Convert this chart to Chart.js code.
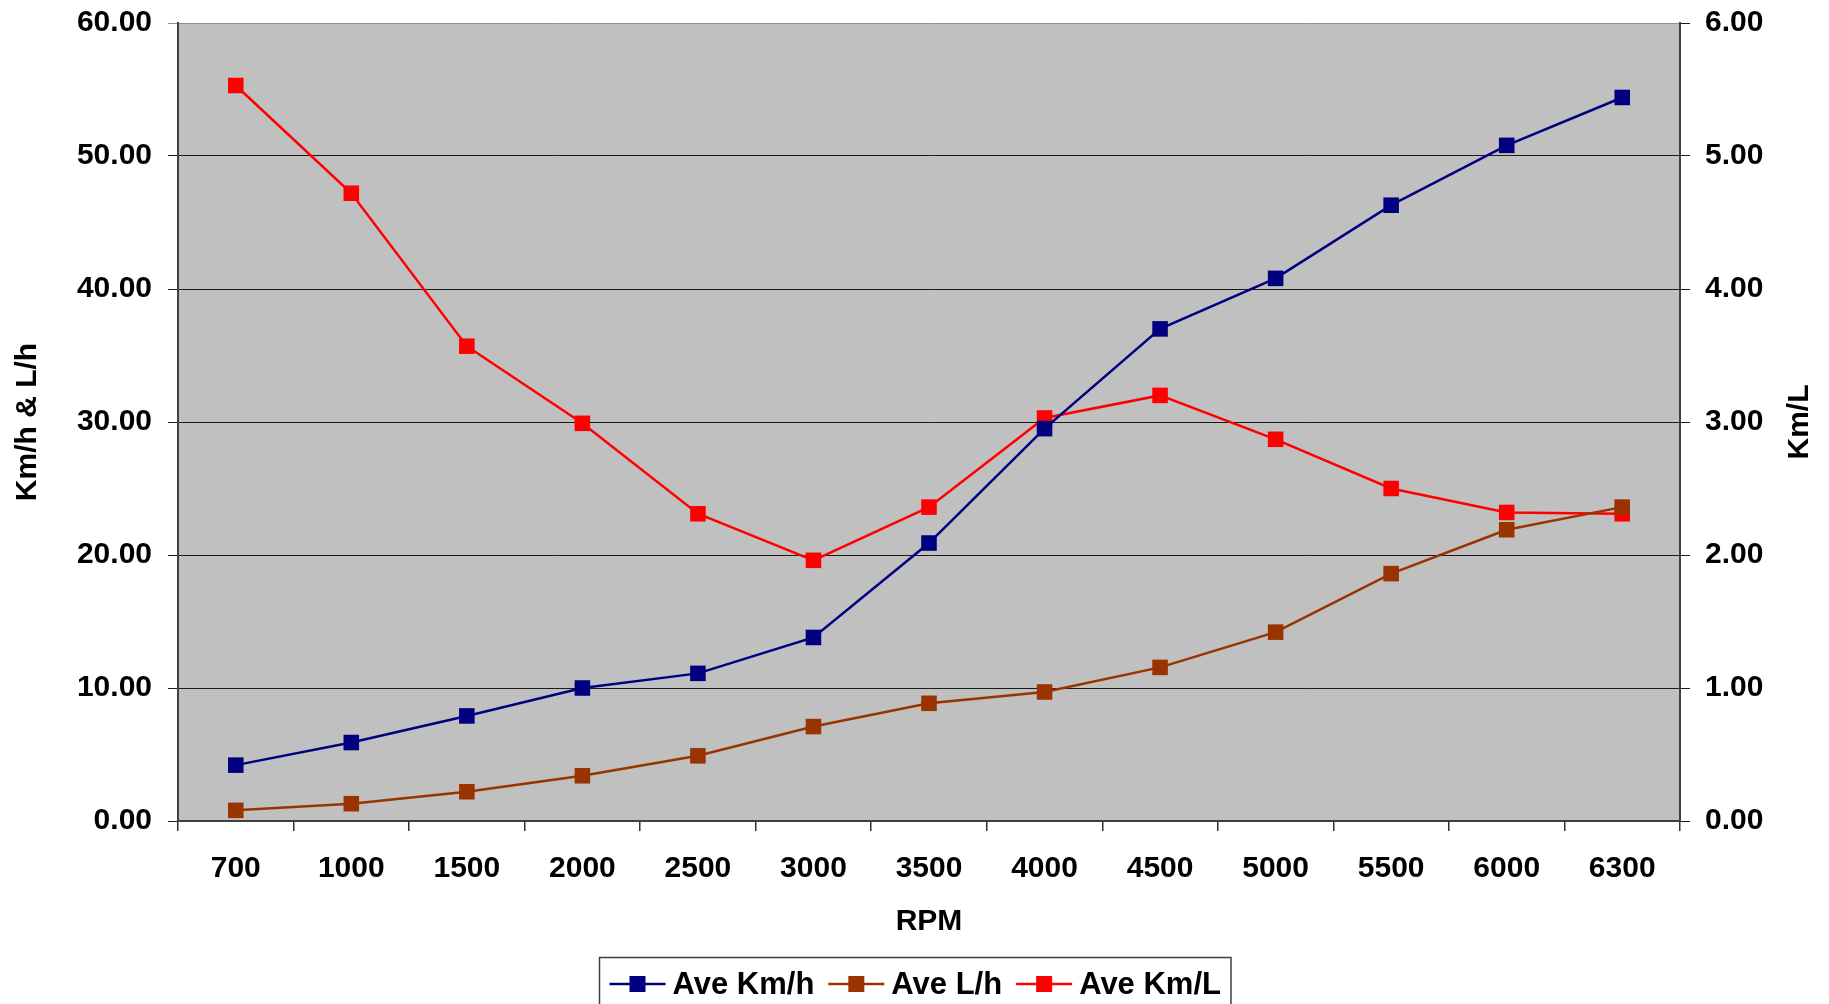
<!DOCTYPE html>
<html>
<head>
<meta charset="utf-8">
<script src="https://cdn.jsdelivr.net/npm/chart.js@4/dist/chart.umd.min.js"></script>
<style>
  html, body { margin: 0; padding: 0; background: #fff; }
  #wrap { width: 1829px; height: 1004px; }
</style>
</head>
<body>
<div id="wrap"><canvas id="rpmChart" width="1829" height="1004"></canvas></div>
<script>
// RPM categories
const rpm = ['700', '1000', '1500', '2000', '2500', '3000', '3500', '4000', '4500', '5000', '5500', '6000', '6300'];

// series
const aveKmh = [4.2, 5.9, 7.9, 10.0, 11.1, 13.8, 20.9, 29.5, 37.0, 40.8, 46.3, 50.8, 54.4];
const aveLh = [0.8, 1.3, 2.2, 3.4, 4.9, 7.1, 8.85, 9.7, 11.55, 14.2, 18.6, 21.9, 23.6];
const aveKmL = [5.53, 4.72, 3.57, 2.99, 2.31, 1.96, 2.36, 3.03, 3.20, 2.87, 2.50, 2.32, 2.31];

const seriesNames = ['Ave Km/h', 'Ave L/h', 'Ave Km/L'];
const seriesColors = ['#000080', '#993300', '#ff0000'];

const FONT = 'Arial, "Liberation Sans", Helvetica, sans-serif';

// grey plot background, custom legend box and upright right-hand title
const excelLook = {
  id: 'excelLook',
  beforeDraw(chart) {
    const { ctx, chartArea: a } = chart;
    ctx.save();
    ctx.fillStyle = '#c0c0c0';
    ctx.fillRect(a.left, a.top, a.right - a.left, a.bottom - a.top);
    ctx.restore();
  },
  afterDraw(chart) {
    const { ctx, chartArea: a } = chart;
    ctx.save();
    ctx.font = 'bold 30px ' + FONT;
    ctx.fillStyle = '#000';

    // right axis title, reading bottom to top
    ctx.translate(1800, (a.top + a.bottom) / 2);
    ctx.rotate(-Math.PI / 2);
    ctx.textAlign = 'center';
    ctx.textBaseline = 'middle';
    ctx.fillText('Km/L', 0, 0);
    ctx.setTransform(1, 0, 0, 1, 0, 0);

    // legend
    ctx.font = 'bold 31px ' + FONT;
    const lineLen = 56, gapText = 7, gapItem = 14, padX = 10;
    const widths = seriesNames.map(n => ctx.measureText(n).width);
    let total = padX * 2 + gapItem * (seriesNames.length - 1);
    widths.forEach(w => total += lineLen + gapText + w);
    const boxLeft = Math.round(chart.width / 2 - total / 2) + 0.5;
    const boxTop = 957.5;
    ctx.strokeStyle = '#404040';
    ctx.lineWidth = 1.5;
    ctx.strokeRect(boxLeft, boxTop, total, 70);
    const cy = 984;
    let x = boxLeft + padX;
    seriesNames.forEach((n, i) => {
      ctx.strokeStyle = seriesColors[i];
      ctx.lineWidth = 2.5;
      ctx.beginPath();
      ctx.moveTo(x, cy);
      ctx.lineTo(x + lineLen, cy);
      ctx.stroke();
      ctx.fillStyle = seriesColors[i];
      ctx.fillRect(x + lineLen / 2 - 8, cy - 8, 16, 16);
      ctx.fillStyle = '#000';
      ctx.textAlign = 'left';
      ctx.fillText(n, x + lineLen + gapText, cy + 1);
      x += lineLen + gapText + widths[i] + gapItem;
    });
    ctx.restore();
  }
};

function lineSet(label, data, color, axis) {
  return {
    label: label,
    data: data,
    yAxisID: axis,
    borderColor: color,
    backgroundColor: color,
    borderWidth: 2.5,
    pointStyle: 'rect',
    pointRadius: 11,
    pointHoverRadius: 11,
    pointBorderWidth: 0,
    tension: 0,
    fill: false
  };
}

const ctx = document.getElementById('rpmChart').getContext('2d');
new Chart(ctx, {
  type: 'line',
  data: {
    labels: rpm,
    datasets: [
      lineSet(seriesNames[0], aveKmh, seriesColors[0], 'y'),
      lineSet(seriesNames[1], aveLh, seriesColors[1], 'y'),
      lineSet(seriesNames[2], aveKmL, seriesColors[2], 'y1')
    ]
  },
  plugins: [excelLook],
  options: {
    responsive: false,
    animation: false,
    devicePixelRatio: 1,
    layout: { padding: { top: 23, bottom: 60, left: 0, right: 0 } },
    plugins: {
      legend: { display: false },
      tooltip: { enabled: false }
    },
    scales: {
      x: {
        offset: true,
        grid: { offset: true, drawOnChartArea: false, drawTicks: true, tickLength: 10, color: '#333', lineWidth: 1.5 },
        border: { color: '#404040', width: 2 },
        ticks: { color: '#000', font: { family: FONT, size: 30, weight: 'bold' }, padding: 20, maxRotation: 0, autoSkip: false },
        title: { display: true, text: 'RPM', color: '#000', font: { family: FONT, size: 30, weight: 'bold' } },
        afterFit(scale) { scale.height = 123; }
      },
      y: {
        position: 'left',
        min: 0,
        max: 60,
        grid: { color: ctx => ctx.tick && ctx.tick.value === 60 ? '#909090' : '#1a1a1a', lineWidth: 1, tickLength: 10 },
        border: { color: '#404040', width: 2 },
        ticks: { stepSize: 10, color: '#000', padding: 16, font: { family: FONT, size: 30, weight: 'bold' }, callback: v => v.toFixed(2) },
        title: { display: true, text: 'Km/h & L/h', color: '#000', padding: { top: 10, bottom: 0 }, font: { family: FONT, size: 30, weight: 'bold' } },
        afterFit(scale) { scale.width = 178; scale.paddingTop = 0; scale.paddingBottom = 0; }
      },
      y1: {
        position: 'right',
        min: 0,
        max: 6,
        grid: { drawOnChartArea: false, color: '#1a1a1a', lineWidth: 1, tickLength: 10 },
        border: { color: '#404040', width: 2 },
        ticks: { stepSize: 1, color: '#000', padding: 15, font: { family: FONT, size: 30, weight: 'bold' }, callback: v => v.toFixed(2) },
        afterFit(scale) { scale.width = 149; scale.paddingTop = 0; scale.paddingBottom = 0; }
      }
    }
  }
});
</script>
</body>
</html>
